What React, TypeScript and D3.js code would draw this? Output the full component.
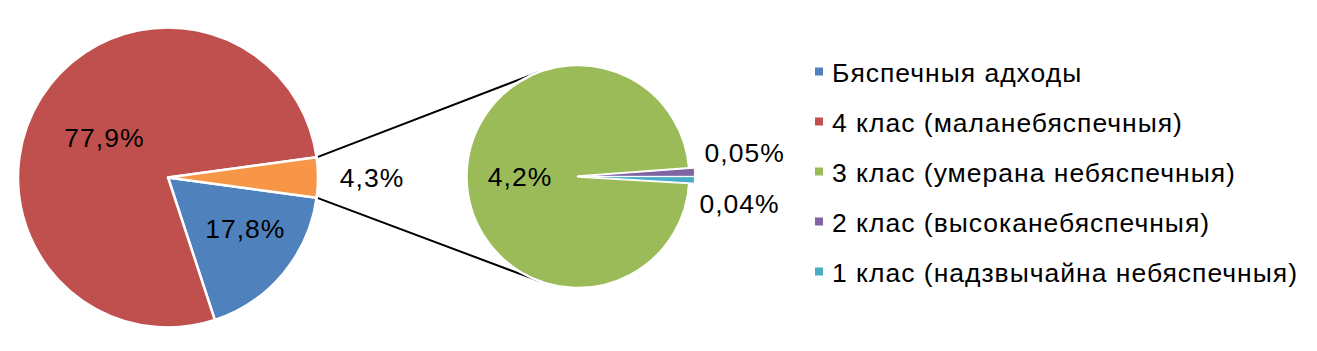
import * as d3 from 'd3';

// legend categories and their shares (percent of total)
const categories = [
  'Бяспечныя адходы',
  '4 клас (маланебяспечныя)',
  '3 клас (умерана небяспечныя)',
  '2 клас (высоканебяспечныя)',
  '1 клас (надзвычайна небяспечныя)',
];
const values = [17.8, 77.9, 4.2, 0.05, 0.04];
const colors = ['#4F81BD', '#C0504D', '#9BBB59', '#8064A2', '#4BACC6'];
const otherColor = '#F79646';

// first two go in the main pie, the rest are split out into the second pie
const mainCount = 2;

const W = 1317;
const H = 351;
const font = '"Liberation Sans", Arial, sans-serif';
const fontSize = 26.5;
const spacing = 1;

const fmt = (v: number) => (v < 0.1 ? v.toFixed(2) : v.toFixed(1)).replace('.', ',') + '%';

export default function App() {
  const R1 = 150;
  const c1 = { x: 168, y: 177.5 };
  const R2 = 111.5;
  const c2 = { x: 578, y: 176.5 };

  const small = values.slice(mainCount);
  const otherVal = d3.sum(small);
  const mainData = [...values.slice(0, mainCount), otherVal];
  const total = d3.sum(mainData);

  // main pie: "other" slice centred on 3 o'clock
  const otherAng = (2 * Math.PI * otherVal) / total;
  const start1 = Math.PI / 2 + otherAng / 2;
  const pie1 = d3.pie<number>().sort(null).value(d => d)
    .startAngle(start1).endAngle(start1 + 2 * Math.PI);
  const arcs1 = pie1(mainData);

  // second pie: last slice starts at 3 o'clock, the one before ends there
  const lastAng = (2 * Math.PI * small[small.length - 1]) / otherVal;
  const start2 = Math.PI / 2 + lastAng;
  const pie2 = d3.pie<number>().sort(null).value(d => d)
    .startAngle(start2).endAngle(start2 + 2 * Math.PI);
  const arcs2 = pie2(small);

  const arc1 = d3.arc<d3.PieArcDatum<number>>().innerRadius(0).outerRadius(R1);
  const arc2 = d3.arc<d3.PieArcDatum<number>>().innerRadius(0).outerRadius(R2);

  const polar = (c: { x: number; y: number }, r: number, a: number) => ({
    x: c.x + r * Math.sin(a),
    y: c.y - r * Math.cos(a),
  });
  const mid = (a: d3.PieArcDatum<number>) => (a.startAngle + a.endAngle) / 2;

  // label placement: radius factor and angle shift (deg)
  const place1 = [[0.62, -6], [0.5, 0], [1.36, 0]];
  const place2 = [[0.52, 0], [1.51, -6], [1.47, 8]];
  const explode = 5;

  // connector lines from the other-slice corners, tangent to the second pie
  const otherArc = arcs1[arcs1.length - 1];
  const tangent = (p: { x: number; y: number }, up: boolean) => {
    const dx = p.x - c2.x;
    const dy = p.y - c2.y;
    const d = Math.hypot(dx, dy);
    const phi = Math.atan2(dy, dx);
    const al = Math.acos(R2 / d);
    const pts = [phi + al, phi - al].map(t => ({ x: c2.x + R2 * Math.cos(t), y: c2.y + R2 * Math.sin(t) }));
    pts.sort((a, b) => a.y - b.y);
    return up ? pts[0] : pts[1];
  };
  const pTop = polar(c1, R1, otherArc.startAngle);
  const pBot = polar(c1, R1, otherArc.endAngle);
  const lines = [
    [pTop, tangent(pTop, true)],
    [pBot, tangent(pBot, false)],
  ];

  const legendX = 815;
  const legendY = d3.scalePoint<number>().domain(d3.range(categories.length)).range([72.5, 272.5]);

  return (
    <svg width={W} height={H} style={{ position: 'absolute', left: 0, top: 0, background: '#fff' }}
      fontFamily={font} letterSpacing={spacing}>
      {lines.map((l, i) => (
        <line key={i} x1={l[0].x} y1={l[0].y} x2={l[1].x} y2={l[1].y} stroke="#000" strokeWidth={2} />
      ))}

      <g transform={`translate(${c1.x},${c1.y})`}>
        {arcs1.map((a, i) => (
          <path key={i} d={arc1(a) || ''} fill={i < mainCount ? colors[i] : otherColor}
            stroke="#fff" strokeWidth={2.5} strokeLinejoin="round" />
        ))}
      </g>

      <g transform={`translate(${c2.x},${c2.y})`}>
        {arcs2.map((a, i) => {
          const m = mid(a);
          const off = i === 0 ? 0 : explode;
          return (
            <path key={i} d={arc2(a) || ''} fill={colors[mainCount + i]}
              transform={`translate(${off * Math.sin(m)},${-off * Math.cos(m)})`}
              stroke="#fff" strokeWidth={i === 0 ? 2.5 : 1} strokeLinejoin="round" />
          );
        })}
      </g>

      {arcs1.map((a, i) => {
        const p = polar(c1, R1 * place1[i][0], mid(a) + (place1[i][1] * Math.PI) / 180);
        return (
          <text key={i} x={p.x} y={p.y} dy="0.35em" textAnchor="middle" fontSize={fontSize} fill="#000">
            {fmt(a.data)}
          </text>
        );
      })}
      {arcs2.map((a, i) => {
        const p = polar(c2, R2 * place2[i][0], mid(a) + (place2[i][1] * Math.PI) / 180);
        return (
          <text key={i} x={p.x} y={p.y} dy="0.35em" textAnchor="middle" fontSize={fontSize} fill="#000">
            {fmt(a.data)}
          </text>
        );
      })}

      {categories.map((c, i) => (
        <g key={c} transform={`translate(${legendX},${legendY(i)})`}>
          <rect x={0} y={-5} width={8} height={8} fill={colors[i]} />
          <text x={17} y={0} dy="0.35em" fontSize={fontSize} fill="#000">{c}</text>
        </g>
      ))}
    </svg>
  );
}
